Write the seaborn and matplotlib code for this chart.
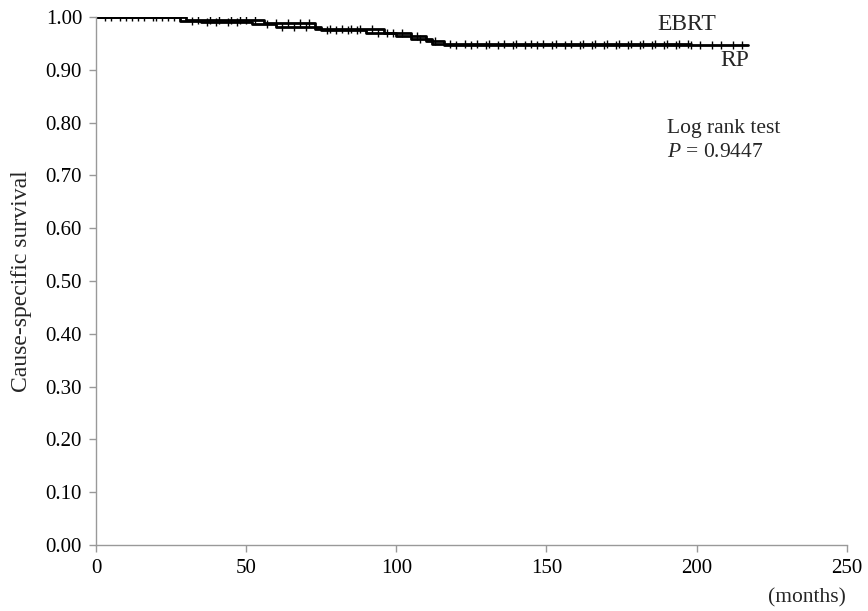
import numpy as np
import pandas as pd
import matplotlib
matplotlib.use("Agg")
import matplotlib.pyplot as plt
import seaborn as sns

# ---- data ----
ebrt_time = [0, 30, 56, 73, 96, 105, 112, 198]
ebrt_surv = [1.000, 0.995, 0.988, 0.978, 0.970, 0.958, 0.950, 0.950]
rp_time = [0, 28, 35, 52, 60, 75, 90, 100, 110, 116, 217]
rp_surv = [1.000, 0.993, 0.990, 0.986, 0.982, 0.975, 0.970, 0.965, 0.955, 0.948, 0.948]

ebrt_censor = [3, 8, 12, 16, 19, 22, 26, 34, 38, 41, 45, 48, 50, 53, 60, 64, 68, 71, 78, 82,
               85, 88, 92, 99, 102, 108, 118, 123, 127, 131, 136, 140, 145, 149, 153, 158,
               162, 166, 170, 174, 178, 182, 186, 190, 194, 197]
rp_censor = [5, 10, 14, 20, 24, 32, 37, 40, 44, 47, 57, 62, 66, 70, 77, 80, 84, 87, 94, 97,
             107, 113, 120, 125, 130, 134, 139, 143, 147, 152, 156, 161, 165, 169, 173, 177,
             181, 185, 189, 193, 198, 201, 205, 208, 212, 215]

x_ticks = [0, 50, 100, 150, 200, 250]
y_ticks = [0.0, 0.1, 0.2, 0.3, 0.4, 0.5, 0.6, 0.7, 0.8, 0.9, 1.0]

# ---- tables ----
curve_df = pd.concat([
    pd.DataFrame({"time": ebrt_time, "surv": ebrt_surv, "group": "EBRT"}),
    pd.DataFrame({"time": rp_time, "surv": rp_surv, "group": "RP"}),
], ignore_index=True)

def surv_at(times, survs, t):
    idx = np.searchsorted(times, t, side="right") - 1
    return np.asarray(survs)[idx]

cens_df = pd.concat([
    pd.DataFrame({"time": ebrt_censor, "surv": surv_at(ebrt_time, ebrt_surv, ebrt_censor), "group": "EBRT"}),
    pd.DataFrame({"time": rp_censor, "surv": surv_at(rp_time, rp_surv, rp_censor), "group": "RP"}),
], ignore_index=True)

# ---- plot ----
sns.set_style("white")
plt.rcParams["font.family"] = ["Liberation Serif", "DejaVu Serif"]
plt.rcParams["mathtext.fontset"] = "custom"
plt.rcParams["mathtext.it"] = "Liberation Serif:italic"
plt.rcParams["mathtext.rm"] = "Liberation Serif"

fig = plt.figure(figsize=(8.68, 6.11), dpi=100)
ax = fig.add_axes([0.1106, 0.108, 0.865, 0.864])

sns.lineplot(data=curve_df, x="time", y="surv", hue="group", palette=["black", "black"],
             drawstyle="steps-post", estimator=None, linewidth=2.0, legend=False, ax=ax)
sns.scatterplot(data=cens_df, x="time", y="surv", marker="|", color="black", s=40,
                linewidth=1.0, legend=False, ax=ax)

ax.set_xlim(0, 250)
ax.set_ylim(0, 1.0)
ax.set_xticks(x_ticks)
ax.set_xticklabels([str(v) for v in x_ticks])
ax.set_yticks(y_ticks)
ax.set_yticklabels([f"{v:.2f}" for v in y_ticks])
ax.set_xlabel("")
ax.set_ylabel("Cause-specific survival", fontsize=17, labelpad=10)

for s in ["top", "right"]:
    ax.spines[s].set_visible(False)
for s in ["left", "bottom"]:
    ax.spines[s].set_color("#999999")
    ax.spines[s].set_linewidth(1.0)
ax.tick_params(axis="both", which="major", direction="out", length=5, width=1.0,
               color="#999999", labelsize=15, labelcolor="black",
               bottom=True, left=True)
ax.tick_params(axis="x", pad=5)
ax.tick_params(axis="y", pad=5)

ax.text(187, 0.975, "EBRT", fontsize=17, ha="left", va="baseline")
ax.text(208, 0.937, "RP", fontsize=17, ha="left", va="top")
ax.text(190, 0.780, "Log rank test", fontsize=15.5, ha="left", va="baseline")
ax.text(190, 0.735, "$\\mathit{P}$ = 0.9447", fontsize=15.5, ha="left", va="baseline")
fig.text(0.93, 0.021, "(months)", fontsize=15.5, ha="center", va="center")

fig.savefig("out.png", dpi=100)
